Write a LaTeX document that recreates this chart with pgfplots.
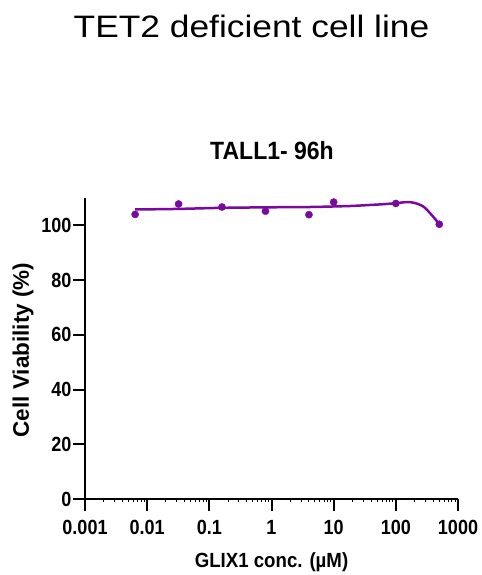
\documentclass[border=0pt]{standalone}
\usepackage{fontspec}
\setmainfont{Liberation Sans}
\newfontfamily\tickfont{Liberation Sans}[FakeStretch=0.88]
\newfontfamily\xlabfont{Liberation Sans}[FakeStretch=0.91]
\newfontfamily\subfont{Liberation Sans}[FakeStretch=0.92]
\newfontfamily\titfont{Liberation Sans}[FakeStretch=1.14]
\usepackage{pgfplots}
\pgfplotsset{compat=1.18}
\definecolor{curvepurple}{RGB}{122,10,158}
\begin{document}
\begin{tikzpicture}[x=1bp,y=1bp]
\path[use as bounding box] (0,0) rectangle (482,575);
\begin{axis}[
  at={(85bp,76bp)}, anchor=south west,
  scale only axis, width=373bp, height=301bp,
  xmode=log, xmin=0.001, xmax=1000,
  ymin=0, ymax=110,
  axis x line*=bottom, axis y line*=left,
  axis line style={line width=2.2bp},
  every tick/.style={line width=2bp, black},
  minor tick style={line width=1bp},
  tick align=outside,
  major tick length=12bp, minor tick length=3.5bp,
  xtick={0.001,0.01,0.1,1,10,100,1000},
  xticklabels={0.001,0.01,0.1,1,10,100,1000},
  ytick={0,20,40,60,80,100},
  /pgf/number format/assume math mode=true,
  ticklabel style={font=\tickfont\fontsize{20.5bp}{24bp}\selectfont\bfseries},
  yticklabel style={xshift=2bp},
  xticklabel style={yshift=-6bp},
  clip=false,
]
\addplot[curvepurple, line width=2.5bp, smooth] coordinates {
(0.0064,105.8) (0.03,106.0) (0.16,106.4) (1,106.6) (4,106.7) (10,106.9) (20,107.1) (35,107.4) (60,107.7) (100,108.1) (150,108.5) (200,108.2) (280,106.8) (380,103.7) (500,100.5)
};
\addplot[only marks, mark=*, mark size=3.6bp, curvepurple] coordinates {
(0.0064,104.0) (0.032,107.8) (0.16,106.7) (0.8,105.2) (4,103.9) (10,108.5) (100,108.0) (500,100.4)
};
\end{axis}
\node[font=\titfont\fontsize{31bp}{36bp}\selectfont] at (251.5,549) {TET2 deficient cell line};
\node[font=\subfont\fontsize{25bp}{29bp}\selectfont\bfseries] at (272,424) {TALL1- 96h};
\node[font=\xlabfont\fontsize{20.5bp}{24bp}\selectfont\bfseries] at (271.5,13) {GLIX1 conc. (µM)};
\node[font=\fontsize{22.5bp}{26bp}\selectfont\bfseries, rotate=90] at (23,225) {Cell Viability (\%)};
\end{tikzpicture}
\end{document}
